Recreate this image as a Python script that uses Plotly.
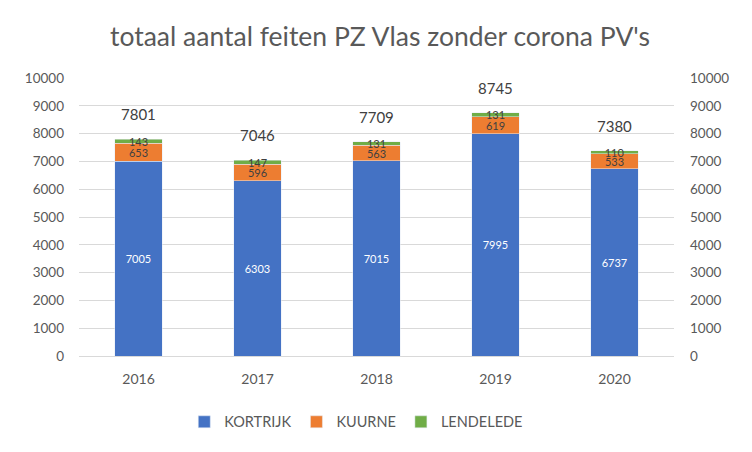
import plotly.graph_objects as go

jaren = ["2016", "2017", "2018", "2019", "2020"]
kortrijk = [7005, 6303, 7015, 7995, 6737]
kuurne = [653, 596, 563, 619, 533]
lendelede = [143, 147, 131, 131, 110]
totalen = [7801, 7046, 7709, 8745, 7380]

font_naam = "Lato"
grijs = "#595959"

fig = go.Figure()
fig.add_trace(go.Bar(x=jaren, y=kortrijk, name="KORTRIJK", marker_color="#4472C4",
                     text=kortrijk, textposition="inside", insidetextanchor="middle",
                     textfont=dict(color="white", size=11)))
fig.add_trace(go.Bar(x=jaren, y=kuurne, name="KUURNE", marker_color="#ED7D31",
                     text=kuurne, textposition="inside", insidetextanchor="middle",
                     textfont=dict(color="#404040", size=11)))
fig.add_trace(go.Bar(x=jaren, y=lendelede, name="LENDELEDE", marker_color="#70AD47",
                     text=lendelede, textposition="inside", insidetextanchor="middle",
                     textfont=dict(color="#404040", size=11)))
# onzichtbare trace voor de rechter as
fig.add_trace(go.Scatter(x=jaren, y=totalen, yaxis="y2", mode="markers",
                         marker=dict(opacity=0), showlegend=False, hoverinfo="skip"))

# totalen boven de staven (x = volgnummer van de categorie)
for i, t in enumerate(totalen):
    fig.add_annotation(x=i, y=t, text=str(t), showarrow=False, yshift=25,
                       font=dict(size=15, color="#404040", family=font_naam))

fig.update_layout(
    barmode="stack",
    bargap=0.6,
    width=744, height=444,
    margin=dict(l=71, r=78, t=70, b=96),
    paper_bgcolor="white", plot_bgcolor="white",
    font=dict(family=font_naam, color=grijs),
    title=dict(text="totaal aantal feiten PZ Vlas zonder corona PV's", x=0.5, y=0.935,
               xanchor="center", yanchor="middle", font=dict(size=26.5, color=grijs)),
    uniformtext=dict(minsize=11, mode="show"),
    xaxis=dict(type="category", range=[-0.5, 4.5], showgrid=False, linecolor="#D9D9D9",
               showline=True, ticks="", tickfont=dict(size=14, color=grijs),
               ticklabelstandoff=10),
    yaxis=dict(range=[0, 10000], dtick=1000, tickformat="d", gridcolor="#D9D9D9", zeroline=False,
               tickfont=dict(size=13.5, color=grijs), ticklabelstandoff=14),
    yaxis2=dict(range=[0, 10000], dtick=1000, tickformat="d", overlaying="y", side="right",
                showgrid=False, zeroline=False, tickfont=dict(size=13.5, color=grijs),
                ticklabelstandoff=15),
    legend=dict(orientation="h", x=0.466, xanchor="center", y=-0.237, yanchor="middle",
                font=dict(size=14.5, color=grijs), traceorder="normal"),
    showlegend=True,
)

fig.write_html("out.html")
